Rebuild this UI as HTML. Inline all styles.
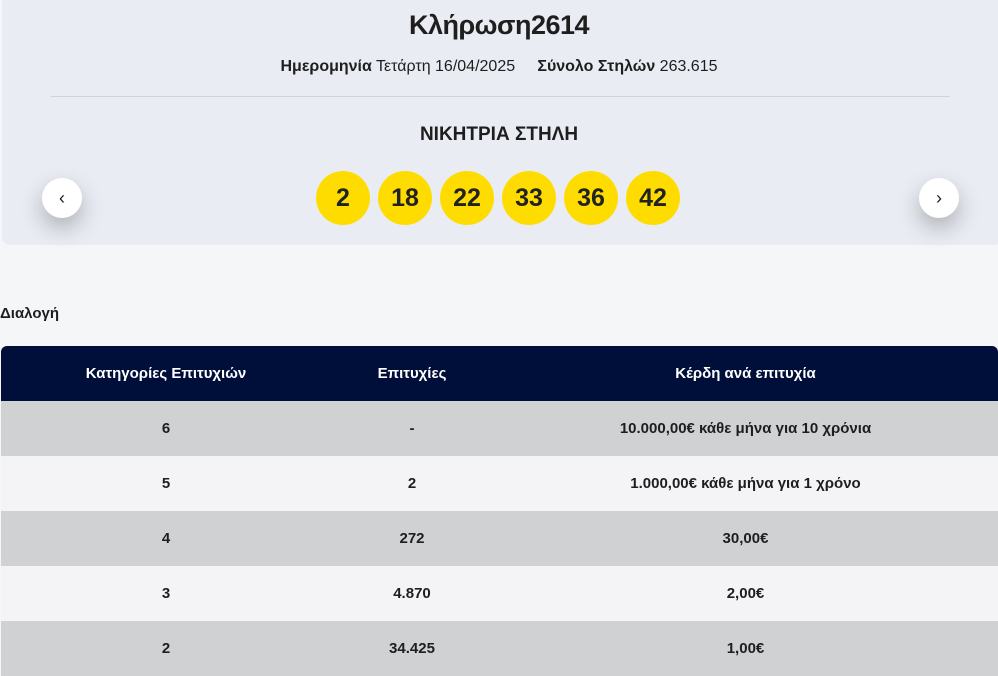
<!DOCTYPE html>
<html><head><meta charset="utf-8"><style>
*{margin:0;padding:0;box-sizing:border-box}
body{width:998px;height:661px;overflow:hidden;background:#f5f6f8;font-family:"Liberation Sans","Noto Sans CJK SC",sans-serif;color:#1e1e1e;position:relative}
.panel{position:absolute;left:2px;top:-6px;width:1000px;height:251px;background:#e9ecf3;border-radius:8px}
.title{position:absolute;top:10px;left:0;width:998px;text-align:center;font-size:27px;font-weight:bold;letter-spacing:-0.5px}
.meta{position:absolute;top:58px;left:0;width:998px;text-align:center;font-size:16px}
.meta b{font-weight:bold}
.divider{position:absolute;top:96px;left:51px;width:899px;height:1px;background:#cfd3db}
.win{position:absolute;top:124px;left:0;width:998px;text-align:center;font-size:19px;font-weight:bold}
.ball{position:absolute;top:171px;width:54px;height:54px;border-radius:50%;background:#ffdc00;font-size:25px;font-weight:bold;text-align:center;line-height:54px;color:#222}
.arrow{position:absolute;top:178px;width:40px;height:40px;border-radius:50%;background:#fff;box-shadow:0 10px 22px rgba(0,0,0,0.25);text-align:center;line-height:40px;font-size:18px}
.sel{position:absolute;top:305px;left:0;font-size:15px;font-weight:bold}
table{position:absolute;top:346px;left:1px;width:997px;border-collapse:collapse;font-size:15px;font-weight:bold}
th{background:#000f3a;color:#fff;height:55px;font-size:15px}
thead tr th:first-child{border-top-left-radius:6px}
thead tr th:last-child{border-top-right-radius:6px}
td{height:55px;text-align:center}
tr.g td{background:#d0d1d3}
tr.w td{background:#f4f4f6}
</style></head><body>
<div class="panel"></div>
<div class="title">Κλήρωση2614</div>
<div class="meta"><b>Ημερομηνία</b> Τετάρτη 16/04/2025 &nbsp;&nbsp;&nbsp; <b>Σύνολο Στηλών</b> 263.615</div>
<div class="divider"></div>
<div class="win">ΝΙΚΗΤΡΙΑ ΣΤΗΛΗ</div>
<div class="arrow" style="left:42px">‹</div>
<div class="arrow" style="left:919px">›</div>
<div class="ball" style="left:316px">2</div>
<div class="ball" style="left:378px">18</div>
<div class="ball" style="left:440px">22</div>
<div class="ball" style="left:502px">33</div>
<div class="ball" style="left:564px">36</div>
<div class="ball" style="left:626px">42</div>
<div class="sel">Διαλογή</div>
<table>
<colgroup><col style="width:330px"><col style="width:162px"><col></colgroup>
<thead><tr><th>Κατηγορίες Επιτυχιών</th><th>Επιτυχίες</th><th>Κέρδη ανά επιτυχία</th></tr></thead>
<tbody>
<tr class="g"><td>6</td><td>-</td><td>10.000,00€ κάθε μήνα για 10 χρόνια</td></tr>
<tr class="w"><td>5</td><td>2</td><td>1.000,00€ κάθε μήνα για 1 χρόνο</td></tr>
<tr class="g"><td>4</td><td>272</td><td>30,00€</td></tr>
<tr class="w"><td>3</td><td>4.870</td><td>2,00€</td></tr>
<tr class="g"><td>2</td><td>34.425</td><td>1,00€</td></tr>
</tbody></table>
</body></html>
